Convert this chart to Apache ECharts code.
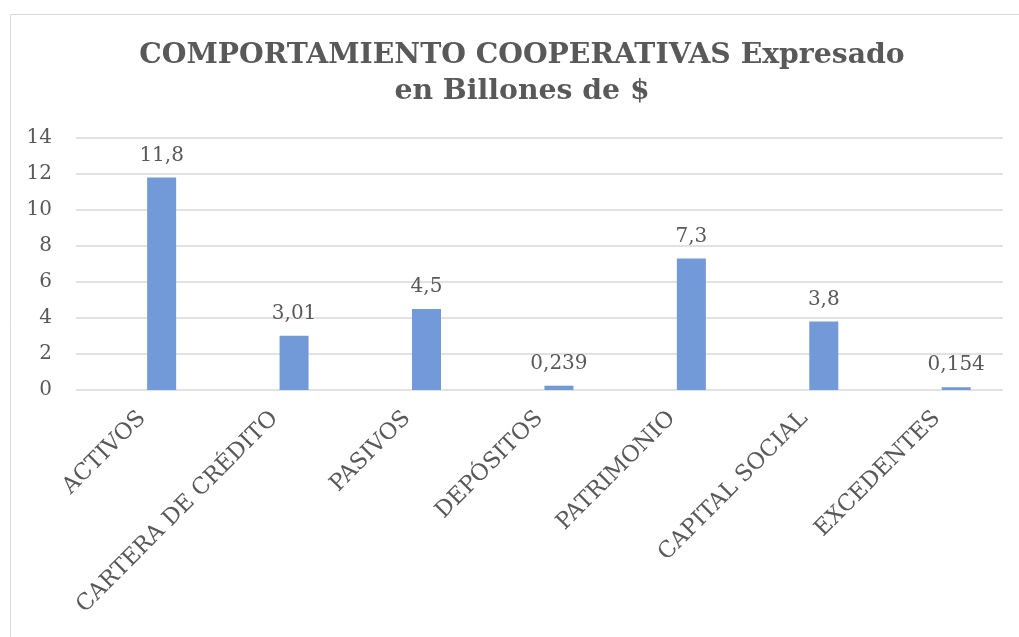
<!DOCTYPE html>
<html>
<head>
<meta charset="utf-8">
<script src="https://cdn.jsdelivr.net/npm/echarts@6/dist/echarts.min.js"></script>
<style>
  html, body { margin: 0; padding: 0; background: #fff; }
  #chart { width: 1019px; height: 637px; }
</style>
</head>
<body>
<div id="chart"></div>
<script>
const categories = ['ACTIVOS', 'CARTERA DE CRÉDITO', 'PASIVOS', 'DEPÓSITOS', 'PATRIMONIO', 'CAPITAL SOCIAL', 'EXCEDENTES']
const values = [11.8, 3.01, 4.5, 0.239, 7.3, 3.8, 0.154]
// empty series to the left, the original workbook leaves room for it
const emptyValues = [null, null, null, null, null, null, null]
const yTicks = { min: 0, max: 14, interval: 2 }

const serif = 'DejaVu Serif'
const textColor = '#595959'

const chart = echarts.init(document.getElementById('chart'))
chart.setOption({
  animation: false,
  graphic: [
    {
      type: 'rect',
      shape: { x: 10.5, y: 14.5, width: 1040, height: 660 },
      style: { fill: 'none', stroke: '#d9d9d9', lineWidth: 1 },
      silent: true
    }
  ],
  title: {
    text: 'COMPORTAMIENTO COOPERATIVAS Expresado\nen Billones de $',
    left: 517,
    top: 33,
    textAlign: 'center',
    textStyle: {
      fontFamily: serif,
      fontWeight: 'bold',
      fontSize: 28.3,
      lineHeight: 36,
      color: textColor
    }
  },
  grid: {
    left: 76,
    right: 16,
    top: 138,
    bottom: 247
  },
  xAxis: {
    type: 'category',
    data: categories,
    axisLine: { show: false },
    axisTick: { show: false },
    axisLabel: {
      rotate: 45,
      margin: 25,
      interval: 0,
      fontFamily: serif,
      fontSize: 22.5,
      color: textColor
    }
  },
  yAxis: {
    type: 'value',
    min: yTicks.min,
    max: yTicks.max,
    interval: yTicks.interval,
    axisLine: { show: false },
    axisTick: { show: false },
    axisLabel: {
      margin: 24,
      fontFamily: serif,
      fontSize: 20,
      color: textColor
    },
    splitLine: { lineStyle: { color: '#d9d9d9', width: 1.5 } }
  },
  series: [
    {
      name: 'vacia',
      type: 'bar',
      data: emptyValues,
      barWidth: 29,
      barGap: '34%'
    },
    {
      name: 'valor',
      type: 'bar',
      data: values,
      barWidth: 29,
      barGap: '34%',
      itemStyle: { color: '#7299d8' },
      label: {
        show: true,
        position: 'top',
        distance: 12,
        fontFamily: serif,
        fontSize: 20,
        color: textColor,
        formatter: p => String(p.value).replace('.', ',')
      }
    }
  ]
})
</script>
</body>
</html>
